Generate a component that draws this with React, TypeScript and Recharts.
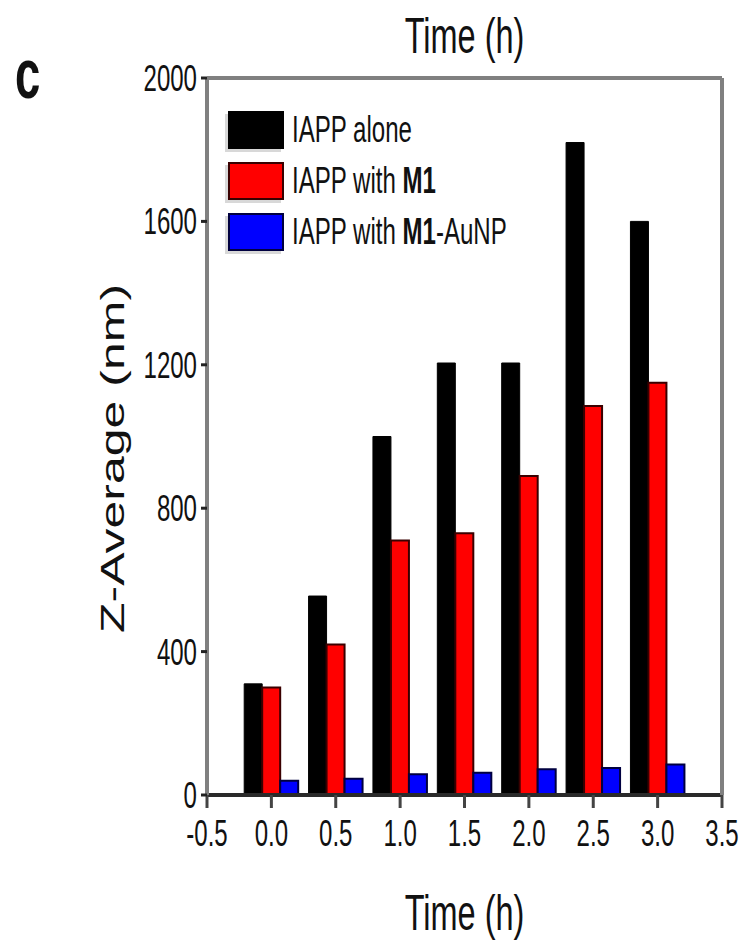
import React from 'react'
import { BarChart, Bar, XAxis, YAxis, Legend, Label } from 'recharts'

// Z-average size over time
const TIMES = [0, 0.5, 1.0, 1.5, 2.0, 2.5, 3.0]
const IAPP_ALONE = [310, 555, 1000, 1205, 1205, 1820, 1600]
const IAPP_M1 = [300, 420, 710, 730, 890, 1085, 1150]
const IAPP_M1_AUNP = [40, 45, 58, 62, 72, 75, 85]

const X_TICKS = [-0.5, 0, 0.5, 1.0, 1.5, 2.0, 2.5, 3.0, 3.5]
const X_MINOR = [-0.25, 0.25, 0.75, 1.25, 1.75, 2.25, 2.75, 3.25]
const X_TOP = [-0.5, -0.25, 0, 0.25, 0.5, 0.75, 1.0, 1.25, 1.5, 1.75, 2.0, 2.25, 2.5, 2.75, 3.0, 3.25, 3.5]
const Y_TICKS = [0, 400, 800, 1200, 1600, 2000]
const Y_MINOR = [0, 200, 400, 600, 800, 1000, 1200, 1400, 1600, 1800, 2000]

const data = TIMES.map((t, i) => ({
  t,
  alone: IAPP_ALONE[i],
  m1: IAPP_M1[i],
  aunp: IAPP_M1_AUNP[i],
}))

const FONT = "'Liberation Sans', Arial, sans-serif"
const SQUISH = 0.65
const INK = '#111'
const FRAME = '#808080'

const XTick = ({ x, y, payload }: any) => (
  <text transform={`translate(${x},${y + 36}) scale(${SQUISH},1)`} textAnchor="middle"
    fontSize={37} fontFamily={FONT} fill={INK}>
    {Number(payload.value).toFixed(1)}
  </text>
)

const YTick = ({ x, y, payload }: any) => (
  <text transform={`translate(${x - 2},${y + 13}) scale(${SQUISH},1)`} textAnchor="end"
    fontSize={37} fontFamily={FONT} fill={INK}>
    {payload.value}
  </text>
)

const BottomTitle = ({ viewBox }: any) => (
  <text transform={`translate(${viewBox.x + viewBox.width / 2},${viewBox.y + 135}) scale(${SQUISH},1)`}
    textAnchor="middle" fontSize={50} fontFamily={FONT} fill={INK}>
    Time (h)
  </text>
)

const TopTitle = ({ viewBox }: any) => (
  <g>
    <text transform={`translate(${viewBox.x + viewBox.width / 2},${viewBox.y - 25}) scale(${SQUISH},1)`}
      textAnchor="middle" fontSize={50} fontFamily={FONT} fill={INK}>
      Time (h)
    </text>
    <text transform={`translate(15,${viewBox.y + 20}) scale(${SQUISH},1)`}
      fontSize={70} fontWeight="bold" fontFamily={FONT} fill={INK}>
      c
    </text>
  </g>
)

const YTitle = ({ viewBox }: any) => (
  <text transform={`translate(${viewBox.x - 14},${viewBox.y + viewBox.height / 2 + 22}) rotate(-90) scale(1,${SQUISH})`}
    textAnchor="middle" dominantBaseline="central" fontSize={50} fontFamily={FONT} fill={INK}>
    Z-Average (nm)
  </text>
)

const EDGE: Record<string, string> = { '#000000': '#000000', '#ff0000': '#3a0000', '#0000ff': '#000040' }

const LegendBox = ({ payload }: any) => (
  <div>
    {(payload || []).map((p: any) => {
      const parts = String(p.value).split('M1')
      return (
        <div key={p.value} style={{ display: 'flex', alignItems: 'center', height: 51 }}>
          <div style={{
            flex: '0 0 auto', width: 52, height: 34, background: p.color,
            border: `2px solid ${EDGE[p.color] || '#000'}`, boxShadow: '-3px 3px 0 #d8d8d8',
          }} />
          <span style={{
            display: 'inline-block', marginLeft: 8, fontSize: 37, fontFamily: FONT, color: INK,
            transform: `scaleX(${SQUISH})`, transformOrigin: 'left center', whiteSpace: 'nowrap', lineHeight: '40px',
          }}>
            {parts[0]}
            {parts.length > 1 && <b>M1</b>}
            {parts.length > 1 && parts[1]}
          </span>
        </div>
      )
    })}
  </div>
)

export default function App() {
  return (
    <div style={{ position: 'absolute', left: 0, top: 0, background: '#fff' }}>
      <BarChart width={756} height={944} data={data} barGap={0}
        margin={{ top: 78, right: 34, left: 127, bottom: 89 }}>
        {/* minor ticks first so they sit on the plot edge */}
        <XAxis xAxisId="bm" type="number" dataKey="t" domain={[-0.5, 3.5]} ticks={X_MINOR}
          height={1} tick={false} axisLine={false} tickSize={9} interval={0}
          tickLine={{ stroke: '#9a9a9a', strokeWidth: 3 }} allowDataOverflow />
        <XAxis xAxisId="b" type="number" dataKey="t" domain={[-0.5, 3.5]} ticks={X_TICKS}
          height={59} tick={<XTick />} tickSize={13} interval={0}
          axisLine={{ stroke: '#2a2a2a', strokeWidth: 4 }}
          tickLine={{ stroke: '#444', strokeWidth: 3 }} allowDataOverflow>
          <Label content={<BottomTitle />} />
        </XAxis>
        <XAxis xAxisId="t" orientation="top" mirror type="number" dataKey="t" domain={[-0.5, 3.5]}
          ticks={X_TOP} height={1} tick={false} tickSize={5} interval={0}
          axisLine={{ stroke: FRAME, strokeWidth: 4 }}
          tickLine={{ stroke: '#333', strokeWidth: 2 }} allowDataOverflow>
          <Label content={<TopTitle />} />
        </XAxis>
        <YAxis yAxisId="lm" mirror type="number" domain={[0, 2000]} ticks={Y_MINOR} width={1}
          tick={false} axisLine={false} tickSize={4} interval={0}
          tickLine={{ stroke: '#222', strokeWidth: 3 }} allowDataOverflow />
        <YAxis yAxisId="l" type="number" domain={[0, 2000]} ticks={Y_TICKS} width={80}
          tick={<YTick />} tickSize={6} interval={0}
          axisLine={{ stroke: FRAME, strokeWidth: 4 }}
          tickLine={{ stroke: '#222', strokeWidth: 3 }} allowDataOverflow>
          <Label content={<YTitle />} />
        </YAxis>
        <YAxis yAxisId="r" orientation="right" mirror type="number" domain={[0, 2000]} ticks={Y_MINOR}
          width={1} tick={false} tickSize={5} interval={0}
          axisLine={{ stroke: FRAME, strokeWidth: 4 }}
          tickLine={{ stroke: '#222', strokeWidth: 3 }} allowDataOverflow />
        <Legend layout="horizontal" align="center" verticalAlign="middle" content={<LegendBox />}
          wrapperStyle={{ position: 'absolute', top: 104, left: 228, width: 320 }} />
        <Bar xAxisId="b" yAxisId="l" dataKey="alone" name="IAPP alone" fill="#000000"
          stroke="#000000" strokeWidth={1} barSize={18} isAnimationActive={false} />
        <Bar xAxisId="b" yAxisId="l" dataKey="m1" name="IAPP with M1" fill="#ff0000"
          stroke="#3a0000" strokeWidth={2} barSize={18} isAnimationActive={false} />
        <Bar xAxisId="b" yAxisId="l" dataKey="aunp" name="IAPP with M1-AuNP" fill="#0000ff"
          stroke="#000040" strokeWidth={2} barSize={18} isAnimationActive={false} />
      </BarChart>
    </div>
  )
}
